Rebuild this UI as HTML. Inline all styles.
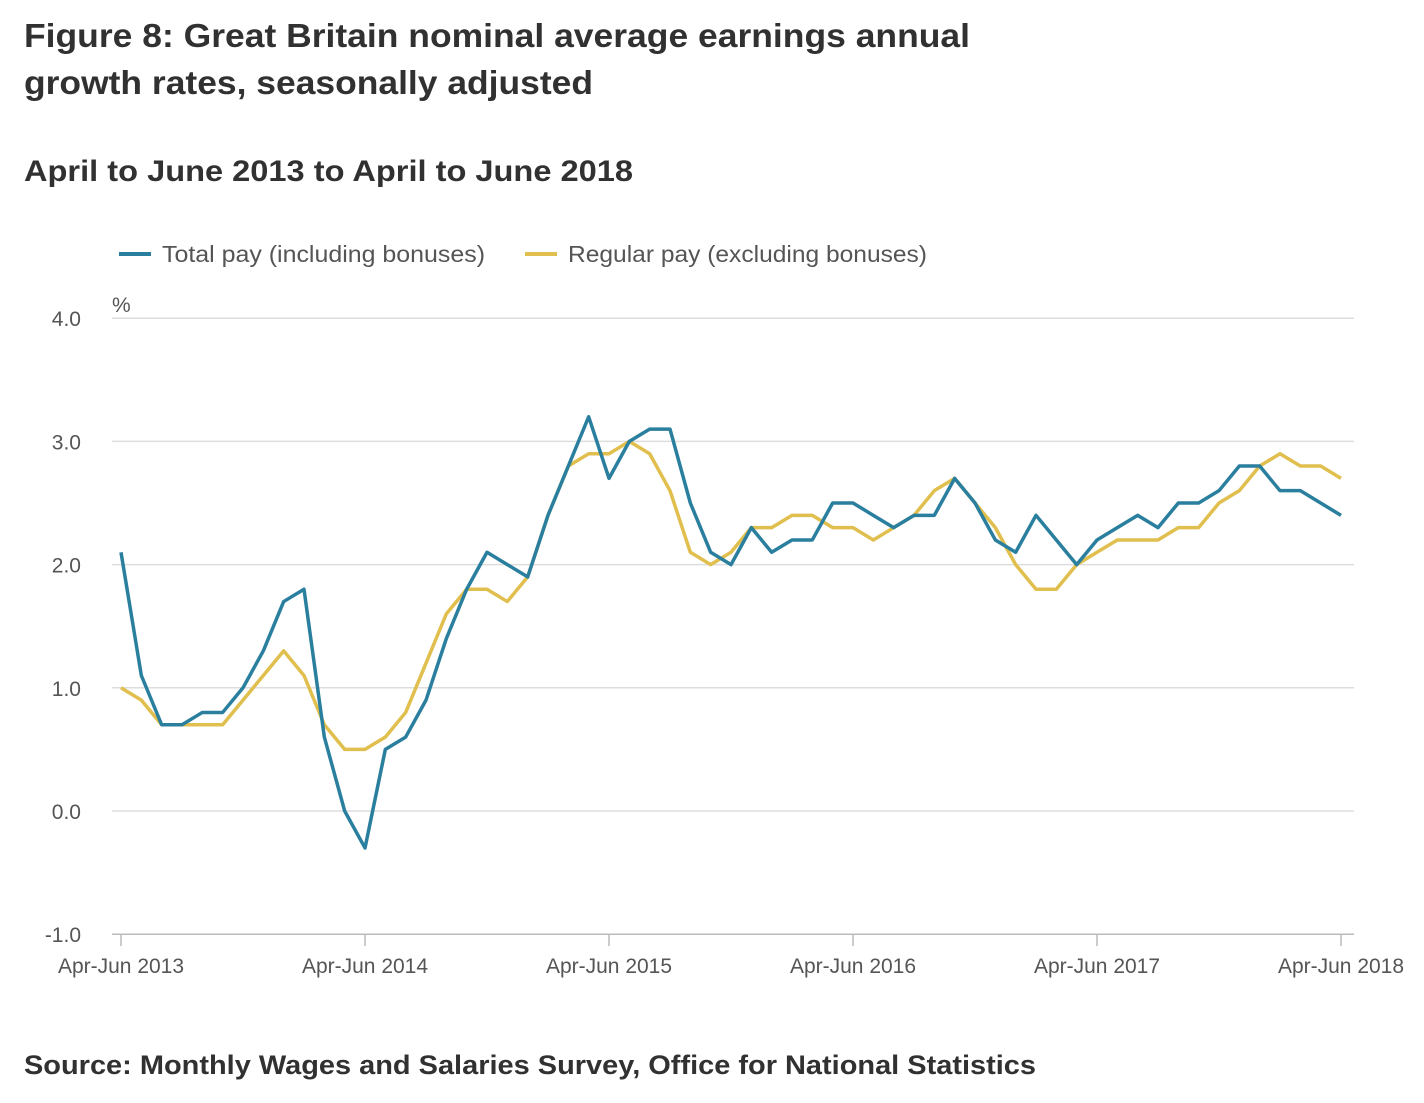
<!DOCTYPE html>
<html><head><meta charset="utf-8"><style>
body{margin:0;background:#fff;width:1424px;height:1098px;overflow:hidden;font-family:"Liberation Sans",sans-serif;color:#323132}
</style></head><body>
<svg width="1424" height="1098" xmlns="http://www.w3.org/2000/svg">
<text x="24" y="47" font-size="33" font-weight="bold" fill="#323132" textLength="946" lengthAdjust="spacingAndGlyphs">Figure 8: Great Britain nominal average earnings annual</text>
<text x="24" y="94" font-size="33" font-weight="bold" fill="#323132" textLength="569" lengthAdjust="spacingAndGlyphs">growth rates, seasonally adjusted</text>
<text x="24" y="181" font-size="30" font-weight="bold" fill="#323132" textLength="609" lengthAdjust="spacingAndGlyphs">April to June 2013 to April to June 2018</text>
<g>
<line x1="119" y1="254" x2="151" y2="254" stroke="#2a7f9e" stroke-width="4"/>
<text x="162" y="262" font-size="23" fill="#555" textLength="323" lengthAdjust="spacingAndGlyphs">Total pay (including bonuses)</text>
<line x1="525" y1="254" x2="557" y2="254" stroke="#e0bf4e" stroke-width="4"/>
<text x="568" y="262" font-size="23" fill="#555" textLength="359" lengthAdjust="spacingAndGlyphs">Regular pay (excluding bonuses)</text>
</g>
<text x="112" y="312" font-size="21" fill="#555">%</text>
<g id="grid"></g><g id="xaxis"></g><g id="series"></g>
<text x="24" y="1074" font-size="27" font-weight="bold" fill="#323132" textLength="1012" lengthAdjust="spacingAndGlyphs">Source: Monthly Wages and Salaries Survey, Office for National Statistics</text>
</svg>
<script>
const totalPay=[2.1,1.1,0.7,0.7,0.8,0.8,1.0,1.3,1.7,1.8,0.6,0.0,-0.3,0.5,0.6,0.9,1.4,1.8,2.1,2.0,1.9,2.4,2.8,3.2,2.7,3.0,3.1,3.1,2.5,2.1,2.0,2.3,2.1,2.2,2.2,2.5,2.5,2.4,2.3,2.4,2.4,2.7,2.5,2.2,2.1,2.4,2.2,2.0,2.2,2.3,2.4,2.3,2.5,2.5,2.6,2.8,2.8,2.6,2.6,2.5,2.4];
const regularPay=[1.0,0.9,0.7,0.7,0.7,0.7,0.9,1.1,1.3,1.1,0.7,0.5,0.5,0.6,0.8,1.2,1.6,1.8,1.8,1.7,1.9,2.4,2.8,2.9,2.9,3.0,2.9,2.6,2.1,2.0,2.1,2.3,2.3,2.4,2.4,2.3,2.3,2.2,2.3,2.4,2.6,2.7,2.5,2.3,2.0,1.8,1.8,2.0,2.1,2.2,2.2,2.2,2.3,2.3,2.5,2.6,2.8,2.9,2.8,2.8,2.7];
const yTicks=[4.0,3.0,2.0,1.0,0.0,-1.0];
const xLabels=["Apr-Jun 2013","Apr-Jun 2014","Apr-Jun 2015","Apr-Jun 2016","Apr-Jun 2017","Apr-Jun 2018"];
const NS="http://www.w3.org/2000/svg";
const xs=i=>121+i*(1341-121)/60;
const ys=v=>811-v*123.2;
function mk(t,a,p){const e=document.createElementNS(NS,t);for(const k in a)e.setAttribute(k,a[k]);p.appendChild(e);return e;}
const grid=document.getElementById('grid');
yTicks.forEach(v=>{
 const l=mk('line',{x1:112,x2:1354,y1:ys(v),y2:ys(v),stroke:v===-1?'#bbb':'#ddd','stroke-width':1.5},grid);
 
 
 const t=mk('text',{x:81,y:ys(v)+8,'font-size':21,fill:'#555','text-anchor':'end'},grid);
 t.textContent=v.toFixed(1);
 
 
});
const xa=document.getElementById('xaxis');
xLabels.forEach((s,j)=>{
 const x=xs(j*12);
 const tk=mk('line',{x1:x,x2:x,y1:934,y2:946,stroke:'#bbb','stroke-width':1.5},xa);
 
 
 const t=mk('text',{x:x,y:973,'font-size':21,fill:'#555','text-anchor':'middle'},xa);
 t.textContent=s;
 
 
});
const sg=document.getElementById('series');
[[regularPay,'#e0bf4e','regular-pay-line'],[totalPay,'#2a7f9e','total-pay-line']].forEach(([d,c,n])=>{
 const p=mk('polyline',{points:d.map((v,i)=>xs(i)+','+ys(v)).join(' '),fill:'none',stroke:c,'stroke-width':3.5,'stroke-linejoin':'round'},sg);
 
 
});
</script>
</body></html>
